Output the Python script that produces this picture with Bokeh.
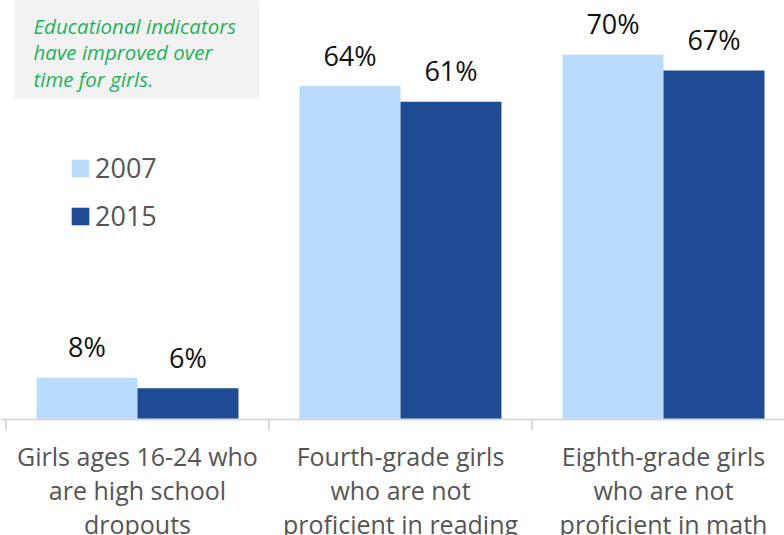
from bokeh.plotting import figure
from bokeh.models import Range1d, Span, BoxAnnotation, Label, Legend, LegendItem, ColumnDataSource
from bokeh.core.properties import value
from bokeh.embed import file_html
from bokeh.resources import INLINE

categories = [
    "Girls ages 16-24 who\nare high school\ndropouts",
    "Fourth-grade girls\nwho are not\nproficient in reading",
    "Eighth-grade girls\nwho are not\nproficient in math",
]
years = ["2007", "2015"]
values_2007 = [8, 64, 70]
values_2015 = [6, 61, 67]
note = "Educational indicators\nhave improved over\ntime for girls."

LIGHT = "#b9dcfd"
DARK = "#1f4b95"
FONT = "Open Sans"
BAR_W = 0.384

idx = list(range(len(categories)))

p = figure(width=784, height=535, output_backend="svg", toolbar_location=None,
           x_range=Range1d(-0.5209, 2.4601), y_range=Range1d(-22.26, 80.42),
           x_axis_location=None, y_axis_location=None, min_border=0)
p.grid.visible = False
p.outline_line_color = None
p.background_fill_color = "white"

# annotation box
p.add_layout(BoxAnnotation(left=-0.4677, right=0.4639, bottom=61.6, top=90,
                           fill_color="#f2f2f2", fill_alpha=1, line_color=None,
                           level="underlay"))
p.add_layout(Label(x=-0.3954, y=78.3, text=note, text_baseline="top",
                   text_font=FONT, text_font_style="italic", text_font_size="20.5px",
                   text_color="#1fb25a", text_line_height=0.95))

src = ColumnDataSource(dict(
    x1=[i - BAR_W / 2 for i in idx], x2=[i + BAR_W / 2 for i in idx],
    v1=values_2007, v2=values_2015,
    t1=[f"{v}%" for v in values_2007], t2=[f"{v}%" for v in values_2015],
    xc=idx, cat=categories,
))

r1 = p.vbar(x="x1", top="v1", bottom=0, width=BAR_W, source=src,
            fill_color=LIGHT, line_color=None)
r2 = p.vbar(x="x2", top="v2", bottom=0, width=BAR_W, source=src,
            fill_color=DARK, line_color=None)

for xs, ts, vs in (("x1", "t1", "v1"), ("x2", "t2", "v2")):
    p.text(x=xs, y=vs, text=ts, source=src, y_offset=-31, text_align="center",
           text_baseline="alphabetic", text_font=value(FONT), text_font_size="27px",
           text_color="#111111")

# axis baseline and separators
p.add_layout(Span(location=0, dimension="width", line_color="#d9d9d9", line_width=2))
sep_x = [i - 0.5 for i in idx] + [len(idx) - 0.5]
p.segment(x0=sep_x, y0=[0] * len(sep_x), x1=sep_x, y1=[-2.1] * len(sep_x),
          line_color="#d9d9d9", line_width=2)

p.text(x="xc", y=0, text="cat", source=src, y_offset=19, text_align="center",
       text_baseline="top", text_font=value(FONT), text_font_size="25px",
       text_color="#555555", text_line_height=1.0)

legend = Legend(items=[LegendItem(label=years[0], renderers=[r1]),
                       LegendItem(label=years[1], renderers=[r2])],
                location=(69, 301), glyph_width=22, glyph_height=22,
                label_text_font_size="27px", label_text_color="#555555",
                label_text_font=FONT, border_line_color=None,
                background_fill_alpha=0, padding=0, margin=0, spacing=11,
                label_height=18, label_standoff=4)
p.add_layout(legend, "center")

open("out.html", "w").write(file_html(p, INLINE))
